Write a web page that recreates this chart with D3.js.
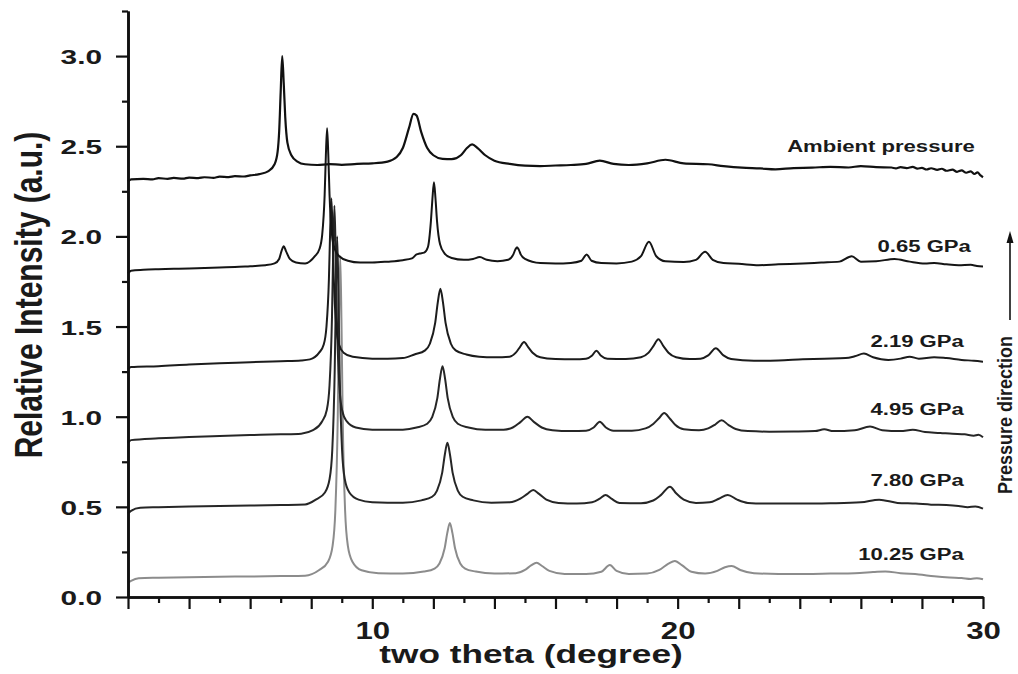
<!DOCTYPE html>
<html>
<head>
<meta charset="utf-8">
<script src="https://cdn.jsdelivr.net/npm/d3@7"></script>
<style>
  html, body { margin: 0; padding: 0; background: #fff; }
  svg { display: block; }
  text { font-family: "Liberation Sans", Arial, sans-serif; fill: #1a1a1a; }
</style>
</head>
<body>
<svg id="chart" width="1018" height="674"></svg>
<script>
// ---------- data (two theta in degrees, relative intensity in a.u.) ----------
const ambient = [
  [2.0,2.305],[2.1,2.316],[2.5,2.319],[2.8,2.316],[3.0,2.323],[3.3,2.319],[3.5,2.324],[3.8,2.32],
  [4.0,2.326],[4.3,2.323],[4.5,2.328],[4.8,2.325],[5.0,2.331],[5.3,2.329],[5.5,2.334],[5.8,2.332],
  [6.0,2.338],[6.3,2.345],[6.6,2.362],[6.8,2.40],[6.9,2.47],[6.95,2.58],[7.0,2.80],
  [7.05,3.00],[7.1,2.85],[7.15,2.66],[7.22,2.52],[7.35,2.45],[7.55,2.415],[7.8,2.40],[8.2,2.396],
  [8.6,2.401],[9.0,2.397],[9.5,2.402],[10.0,2.405],[10.5,2.415],[10.8,2.44],[11.0,2.49],[11.2,2.60],
  [11.35,2.68],[11.45,2.67],[11.6,2.58],[11.8,2.49],[12.0,2.45],[12.3,2.43],[12.6,2.428],[12.9,2.45],
  [13.1,2.49],[13.27,2.51],[13.45,2.49],[13.7,2.45],[14.0,2.42],[14.5,2.402],[15.0,2.392],[15.5,2.39],
  [16.0,2.393],[16.5,2.396],[17.0,2.402],[17.45,2.42],[17.9,2.402],[18.4,2.396],[19.0,2.405],
  [19.6,2.425],[20.2,2.405],[21.0,2.40],[21.5,2.39],[22.1,2.381],[22.7,2.377],[23.2,2.372],
  [23.8,2.379],[24.4,2.381],[25.0,2.386],[25.6,2.382],[26.0,2.39],[26.5,2.384],[27.0,2.382],
  [27.15,2.377],[27.3,2.384],[27.5,2.379],[27.7,2.385],[27.85,2.376],[28.0,2.38],[28.15,2.371],
  [28.3,2.378],[28.5,2.369],[28.65,2.375],[28.8,2.364],[29.0,2.37],[29.15,2.358],[29.3,2.366],
  [29.45,2.353],[29.6,2.361],[29.72,2.346],[29.82,2.355],[29.92,2.338],[30.0,2.328]
];
const gpa065 = [
  [2.0,1.795],[2.1,1.81],[2.5,1.815],[3.0,1.818],[3.5,1.82],[4.0,1.822],[4.5,1.825],[5.0,1.828],
  [5.5,1.83],[6.0,1.835],[6.5,1.84],[6.8,1.85],[6.95,1.875],[7.03,1.92],[7.1,1.945],[7.17,1.92],
  [7.3,1.875],[7.5,1.855],[7.8,1.85],[8.12,1.89],[8.27,1.93],[8.36,2.01],[8.44,2.23],[8.48,2.45],
  [8.52,2.60],[8.56,2.45],[8.60,2.23],[8.68,2.01],[8.77,1.93],[8.92,1.89],[9.2,1.865],[9.6,1.855],
  [10.0,1.855],[10.5,1.86],[11.0,1.868],[11.3,1.878],[11.45,1.9],[11.55,1.905],[11.7,1.91],
  [11.82,1.94],[11.92,2.085],[11.97,2.21],[12.02,2.30],[12.07,2.21],[12.12,2.085],[12.22,1.956],
  [12.37,1.905],[12.6,1.88],[13.0,1.87],[13.3,1.875],[13.52,1.885],[13.75,1.87],[14.1,1.862],
  [14.45,1.87],[14.62,1.90],[14.68,1.925],[14.74,1.94],[14.8,1.925],[14.86,1.90],[15.0,1.875],
  [15.5,1.852],[16.0,1.85],[16.5,1.853],[16.85,1.865],[17.02,1.90],[17.18,1.865],[17.5,1.852],
  [18.0,1.85],[18.5,1.86],[18.8,1.89],[19.06,1.97],[19.3,1.89],[19.6,1.862],[20.2,1.858],
  [20.6,1.87],[20.9,1.915],[21.15,1.87],[21.5,1.852],[22.0,1.848],[22.65,1.84],[23.3,1.845],
  [24.1,1.85],[24.7,1.855],[25.3,1.86],[25.7,1.89],[26.0,1.86],[26.5,1.862],[27.1,1.875],
  [27.6,1.86],[28.1,1.85],[28.4,1.853],[28.8,1.845],[29.2,1.84],[29.6,1.842],[29.8,1.836],[30.0,1.833]
];
const gpa219 = [
  [2.0,1.265],[2.1,1.275],[3.0,1.28],[4.0,1.29],[5.0,1.297],[6.0,1.302],[7.0,1.308],[7.67,1.312],
  [7.96,1.318],[8.26,1.355],[8.41,1.40],[8.50,1.50],[8.58,1.765],[8.62,2.03],[8.66,2.21],[8.70,2.03],
  [8.74,1.765],[8.82,1.50],[8.91,1.40],[9.06,1.355],[9.36,1.332],[10.0,1.322],[10.5,1.322],
  [11.0,1.325],[11.38,1.345],[11.73,1.368],[11.89,1.406],[12.06,1.52],[12.145,1.634],[12.23,1.71],
  [12.315,1.634],[12.4,1.52],[12.57,1.406],[12.73,1.368],[13.08,1.345],[13.5,1.333],[14.0,1.33],
  [14.5,1.333],[14.7,1.355],[14.83,1.385],[14.97,1.414],[15.11,1.385],[15.25,1.355],[15.5,1.33],
  [16.0,1.32],[16.6,1.318],[17.0,1.322],[17.2,1.34],[17.34,1.366],[17.48,1.34],[17.7,1.322],
  [18.3,1.32],[18.8,1.33],[19.05,1.355],[19.2,1.39],[19.37,1.43],[19.54,1.39],[19.7,1.355],
  [19.95,1.33],[20.4,1.32],[20.75,1.322],[21.0,1.34],[21.25,1.38],[21.5,1.34],[21.75,1.32],
  [22.5,1.31],[23.3,1.312],[24.1,1.318],[24.8,1.322],[25.5,1.325],[25.8,1.335],[26.1,1.35],
  [26.4,1.33],[26.9,1.315],[27.3,1.322],[27.6,1.333],[27.9,1.322],[28.4,1.33],[28.8,1.325],
  [29.3,1.315],[29.7,1.31],[30.0,1.305]
];
const gpa495 = [
  [2.0,0.855],[2.1,0.87],[3.0,0.88],[4.0,0.888],[5.0,0.893],[6.0,0.898],[7.0,0.902],[7.67,0.906],
  [8.06,0.925],[8.36,0.975],[8.51,1.037],[8.60,1.174],[8.68,1.55],[8.72,1.92],[8.76,2.17],[8.80,1.92],
  [8.84,1.55],[8.92,1.174],[9.01,1.037],[9.16,0.975],[9.46,0.94],[10.0,0.928],[10.5,0.927],
  [11.0,0.928],[11.45,0.94],[11.8,0.961],[11.96,0.997],[12.13,1.103],[12.215,1.209],[12.3,1.28],
  [12.385,1.209],[12.47,1.103],[12.64,0.997],[12.8,0.961],[13.15,0.94],[13.7,0.927],[14.3,0.928],
  [14.6,0.94],[14.85,0.97],[15.08,1.0],[15.3,0.97],[15.55,0.94],[15.9,0.925],[16.5,0.92],
  [17.0,0.922],[17.25,0.94],[17.45,0.972],[17.65,0.94],[17.9,0.922],[18.5,0.922],[18.95,0.935],
  [19.2,0.96],[19.38,0.99],[19.56,1.02],[19.74,0.99],[19.92,0.955],[20.2,0.93],[20.7,0.925],
  [21.0,0.935],[21.22,0.955],[21.44,0.98],[21.66,0.955],[21.9,0.932],[22.3,0.92],[23.0,0.917],
  [23.8,0.918],[24.5,0.92],[24.8,0.93],[25.1,0.92],[25.8,0.925],[26.3,0.945],[26.7,0.925],
  [27.3,0.92],[27.7,0.928],[28.1,0.915],[28.6,0.91],[29.0,0.905],[29.4,0.902],[29.7,0.895],
  [29.85,0.9],[30.0,0.886]
];
const gpa780 = [
  [2.0,0.465],[2.1,0.478],[2.4,0.495],[3.0,0.498],[4.0,0.502],[5.0,0.505],[6.0,0.507],[7.0,0.51],
  [7.8,0.513],[8.15,0.54],[8.45,0.58],[8.60,0.653],[8.69,0.816],[8.77,1.26],[8.81,1.70],[8.85,2.0],
  [8.89,1.70],[8.93,1.26],[9.01,0.816],[9.10,0.653],[9.25,0.58],[9.55,0.54],[10.0,0.526],
  [11.0,0.523],[11.61,0.536],[11.96,0.556],[12.12,0.59],[12.29,0.69],[12.375,0.789],[12.46,0.856],
  [12.545,0.789],[12.63,0.69],[12.8,0.59],[12.96,0.556],[13.31,0.536],[13.9,0.523],[14.5,0.525],
  [14.85,0.545],[15.08,0.572],[15.27,0.593],[15.46,0.572],[15.7,0.54],[16.1,0.522],[16.7,0.518],
  [17.2,0.525],[17.45,0.545],[17.64,0.566],[17.83,0.545],[18.1,0.522],[18.8,0.52],[19.2,0.535],
  [19.45,0.565],[19.75,0.612],[19.95,0.575],[20.2,0.54],[20.6,0.522],[21.05,0.525],[21.35,0.545],
  [21.64,0.566],[21.95,0.54],[22.3,0.522],[23.0,0.518],[24.0,0.518],[25.0,0.52],[26.0,0.525],
  [26.6,0.54],[27.2,0.522],[27.8,0.518],[28.3,0.512],[28.8,0.51],[29.2,0.505],[29.5,0.498],
  [29.75,0.502],[30.0,0.49]
];
const gpa1025 = [
  [2.0,0.08],[2.1,0.09],[2.35,0.104],[3.0,0.107],[4.0,0.11],[5.0,0.112],[6.0,0.114],[7.0,0.116],
  [7.8,0.118],[8.25,0.148],[8.55,0.196],[8.70,0.284],[8.79,0.478],[8.87,1.0075],[8.91,1.537],
  [8.95,1.89],[8.99,1.537],[9.03,1.0075],[9.11,0.478],[9.20,0.284],[9.35,0.196],[9.65,0.148],
  [10.2,0.132],[11.0,0.13],[11.69,0.141],[12.04,0.158],[12.2,0.186],[12.37,0.27],[12.455,0.354],
  [12.54,0.41],[12.625,0.354],[12.71,0.27],[12.88,0.186],[13.04,0.158],[13.39,0.141],[14.0,0.13],
  [14.7,0.132],[15.0,0.15],[15.2,0.175],[15.38,0.19],[15.56,0.172],[15.8,0.145],[16.3,0.128],
  [17.0,0.127],[17.5,0.14],[17.78,0.177],[18.0,0.145],[18.4,0.128],[19.0,0.13],[19.4,0.15],
  [19.7,0.185],[19.91,0.20],[20.15,0.175],[20.45,0.14],[20.9,0.13],[21.3,0.145],[21.55,0.165],
  [21.77,0.172],[22.05,0.15],[22.5,0.132],[23.3,0.128],[24.2,0.128],[25.0,0.13],[25.8,0.132],
  [26.4,0.138],[26.8,0.142],[27.3,0.132],[27.9,0.125],[28.4,0.115],[28.9,0.108],[29.3,0.105],
  [29.6,0.1],[29.8,0.104],[30.0,0.098]
];

const seriesNames  = ["10.25 GPa", "7.80 GPa", "4.95 GPa", "2.19 GPa", "0.65 GPa", "Ambient pressure"];
const seriesData   = [gpa1025, gpa780, gpa495, gpa219, gpa065, ambient];
const labelAnchorX = [29.37, 29.37, 29.37, 29.37, 29.6, 29.73];  // right end of label, in degrees
const labelAnchorY = [0.205, 0.616, 1.009, 1.388, 1.915, 2.47];  // label baseline, in a.u.

const xMajorTicks = [2,4,6,8,10,12,14,16,18,20,22,24,26,28,30];
const xMinorTicks = [3,5,7,9,11,13,15,17,19,21,23,25,27,29];
const xTickLabels = [10, 20, 30];
const yMajorTicks = [0, 0.5, 1.0, 1.5, 2.0, 2.5, 3.0];
const yMinorTicks = [0.25, 0.75, 1.25, 1.75, 2.25, 2.75, 3.25];

// ---------- drawing ----------
const svg = d3.select("#chart");
const x = d3.scaleLinear().domain([2, 30]).range([128, 983]);
const y = d3.scaleLinear().domain([0, 3.25]).range([597, 11]);

const colors = ["#8c8c8c", "#262626", "#262626", "#1c1c1c", "#151515", "#111111"];
const widths = [2.0, 2.0, 2.0, 2.0, 2.0, 2.2];

const line = d3.line()
  .x(d => x(d[0]))
  .y(d => y(d[1]))
  .curve(d3.curveMonotoneX);

const g = svg.append("g");
seriesData.forEach((data, i) => {
  g.append("path")
    .datum(data)
    .attr("fill", "none")
    .attr("stroke", colors[i])
    .attr("stroke-width", widths[i])
    .attr("stroke-linejoin", "round")
    .attr("d", line);
});

// series labels (source figure is horizontally stretched)
seriesNames.forEach((name, i) => {
  svg.append("text")
    .attr("transform", `translate(${x(labelAnchorX[i])},${y(labelAnchorY[i])}) scale(1.38,1)`)
    .attr("text-anchor", "end")
    .attr("font-size", 16)
    .attr("font-weight", "bold")
    .text(name);
});

// axes
const axisColor = "#111";
const xAxisMajor = d3.axisBottom(x).tickValues(xMajorTicks).tickSize(12).tickSizeOuter(0)
  .tickFormat(d => xTickLabels.includes(d) ? d : "");
const xAxisMinor = d3.axisBottom(x).tickValues(xMinorTicks).tickSize(6).tickSizeOuter(0).tickFormat("");
const yAxisMajor = d3.axisLeft(y).tickValues(yMajorTicks).tickSize(12).tickSizeOuter(0)
  .tickFormat(d3.format(".1f"));
const yAxisMinor = d3.axisLeft(y).tickValues(yMinorTicks).tickSize(6).tickSizeOuter(0).tickFormat("");

const gx = svg.append("g").attr("transform", `translate(0,${y(0)})`).call(xAxisMajor);
const gxm = svg.append("g").attr("transform", `translate(0,${y(0)})`).call(xAxisMinor);
const gy = svg.append("g").attr("transform", `translate(${x(2)},0)`).call(yAxisMajor);
const gym = svg.append("g").attr("transform", `translate(${x(2)},0)`).call(yAxisMinor);

[gx, gxm, gy, gym].forEach(a => {
  a.select(".domain").attr("stroke", axisColor).attr("stroke-width", 2.6);
  a.selectAll(".tick line").attr("stroke", axisColor).attr("stroke-width", 2.2);
});

gx.selectAll(".tick text")
  .attr("y", 0).attr("dy", 0)
  .attr("transform", "translate(0,42) scale(1.3,1)")
  .attr("text-anchor", "middle")
  .attr("font-size", 24)
  .attr("font-weight", "bold")
  .attr("font-family", "Liberation Sans, Arial, sans-serif")
  .attr("fill", "#1a1a1a");

gy.selectAll(".tick text")
  .attr("x", 0).attr("dy", "0.36em")
  .attr("transform", "translate(-26,0) scale(1.42,1)")
  .attr("text-anchor", "end")
  .attr("font-size", 21)
  .attr("font-weight", "bold")
  .attr("font-family", "Liberation Sans, Arial, sans-serif")
  .attr("fill", "#1a1a1a");

// axis titles
svg.append("text")
  .attr("transform", "translate(531,663) scale(1.41,1)")
  .attr("text-anchor", "middle")
  .attr("font-size", 25)
  .attr("font-weight", "bold")
  .text("two theta (degree)");

svg.append("text")
  .attr("transform", "translate(42,295) scale(1.3,1) rotate(-90)")
  .attr("text-anchor", "middle")
  .attr("font-size", 30)
  .attr("font-weight", "bold")
  .text("Relative Intensity (a.u.)");

// pressure direction arrow
const arrowX = 1010;
svg.append("line")
  .attr("x1", arrowX).attr("x2", arrowX)
  .attr("y1", 320).attr("y2", 240)
  .attr("stroke", "#111").attr("stroke-width", 1.6);
svg.append("path")
  .attr("d", `M${arrowX},231 L${arrowX - 3.5},243 L${arrowX + 3.5},243 Z`)
  .attr("fill", "#111");
svg.append("text")
  .attr("transform", "translate(1012,415) scale(1.1,1) rotate(-90)")
  .attr("text-anchor", "middle")
  .attr("font-size", 18)
  .attr("font-weight", "bold")
  .text("Pressure direction");
</script>
</body>
</html>
